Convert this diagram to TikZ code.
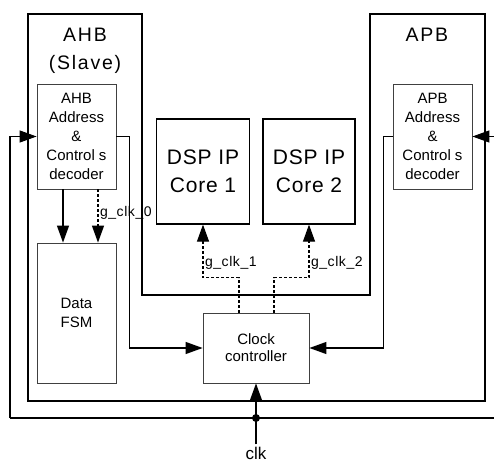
\documentclass[tikz,border=0pt]{standalone}
\usepackage{fontspec}
\setmainfont{Liberation Sans}
\newfontfamily\busfont[LetterSpace=9]{Liberation Sans}
\newfontfamily\corefont[LetterSpace=4]{Liberation Sans}
\usetikzlibrary{arrows.meta}

\begin{document}
\begin{tikzpicture}[x=1pt,y=-1pt,>={Triangle[length=17pt,width=12pt]},line join=miter,
	blk/.style={draw=black!75,line width=0.8pt,align=center,inner sep=0pt,minimum width=79pt,font=\fontsize{15}{19}\selectfont},
	core/.style={draw,line width=1.2pt,align=center,inner sep=0pt,minimum width=93pt,minimum height=105pt,font=\corefont\fontsize{21}{28}\selectfont},
	bus/.style={anchor=base,font=\busfont\fontsize{19.5}{28}\selectfont},
	wire/.style={line width=1.1pt},
	gclk/.style={line width=1.1pt,dash pattern=on 3pt off 2pt},
	sig/.style={font=\corefont\fontsize{14}{16}\selectfont,inner sep=1.5pt}]
	\useasboundingbox (0,0) rectangle (494,462);
	% bus frame
	\draw[line width=1.2pt] (28,14)--(142,14)--(142,295)--(370,295)--(370,14)--(485,14)--(485,401)--(28,401)--cycle;
	\node[bus] (ahbtitle) at (85,42) {AHB};
	\node[bus] (slave) at (85,70) {(Slave)};
	\node[bus] (apbtitle) at (427,42) {APB};
	% blocks
	\node[blk,minimum height=105pt] (ahbdec) at (76.5,136.5) {AHB\\Address\\\&\\Control s\\decoder};
	\node[blk,minimum height=105pt] (apbdec) at (432.5,136.5) {APB\\Address\\\&\\Control s\\decoder};
	\node[blk,minimum height=140pt] (fsm) at (76.5,313) {Data\\FSM};
	\node[blk,minimum width=106pt,minimum height=70pt,font=\fontsize{15}{17}\selectfont] (ctrl) at (256,348) {Clock\\controller};
	\node[core] (core1) at (203,171.5) {DSP IP\\Core 1};
	\node[core,minimum width=92pt] (core2) at (309,171.5) {DSP IP\\Core 2};
	\node[anchor=base,font=\fontsize{17}{19}\selectfont,inner sep=2pt] (clk) at (256,459) {clk};
	% clock net
	\coordinate (clkl) at (10,418);
	\coordinate (clkr) at (494,418);
	\coordinate (clkdot) at (256,418);
	\draw[wire] (clkl) -- (clkr);
	\draw[wire,->] (clkl) |- (ahbdec.west);
	\draw[wire,->] (clkr |- apbdec.east) -- (apbdec.east);
	\draw[wire,->] (clk.north) -- (ctrl.south);
	\fill (clkdot) circle (4pt);
	% decoder outputs
	\draw[wire,->] (ahbdec.east) -- ++(13,0) |- (ctrl.west);
	\draw[wire,->] (apbdec.west) -- ++(-9,0) |- (ctrl.east);
	\draw[wire,->] ([xshift=-13.5pt]ahbdec.south) -- ([xshift=-13.5pt]fsm.north);
	\draw[gclk,->] ([xshift=21.5pt]ahbdec.south) -- node[sig,right,pos=0.45] (g0) {g\_clk\_0} ([xshift=21.5pt]fsm.north);
	% gated clocks
	\draw[gclk,->] ([xshift=-17pt]ctrl.north) -- ++(0,-35) -| node[sig,right,pos=0.64] (g1) {g\_clk\_1} (core1.south);
	\draw[gclk,->] ([xshift=18pt]ctrl.north) -- ++(0,-35) -| node[sig,right,pos=0.64] (g2) {g\_clk\_2} (core2.south);
\end{tikzpicture}
\end{document}
